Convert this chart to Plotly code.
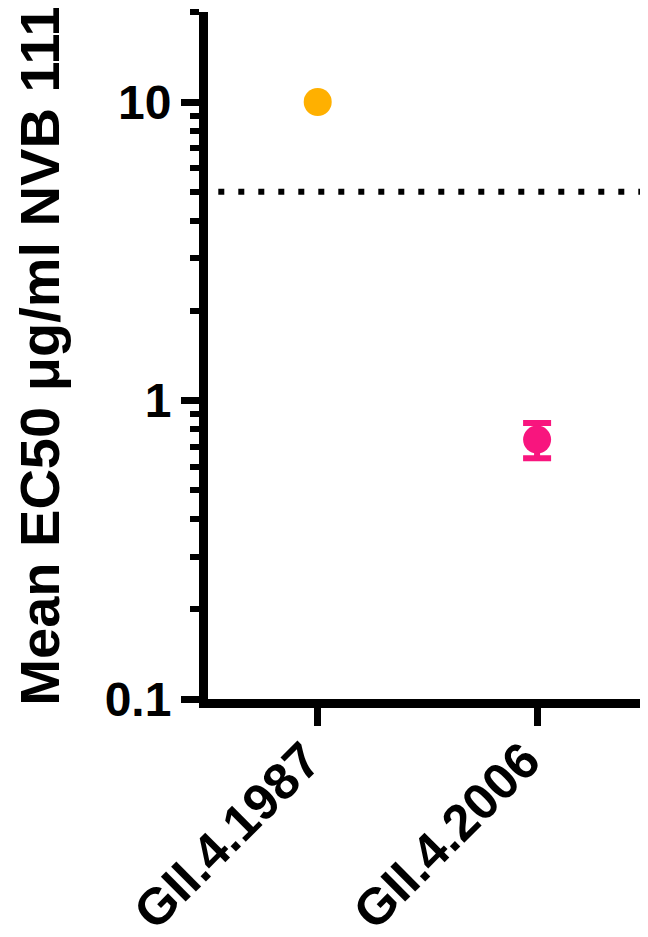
import plotly.graph_objects as go

# Data
categories = ["GII.4.1987", "GII.4.2006"]
mean_ec50 = [10.0, 0.74]
sem_ec50 = [0.0, 0.10]
colors = ["#FFB000", "#F8157E"]
threshold = 5.0
y_title = "Mean EC50 μg/ml NVB 111"

xpos = list(range(len(categories)))

FONT = "Liberation Sans, Arial, Helvetica, sans-serif"

fig = go.Figure()

# dotted threshold line
fig.add_trace(go.Scatter(
    x=[-1, len(categories) + 1], y=[threshold, threshold],
    mode="lines",
    line=dict(color="black", width=6, dash="6px,14px"),
    hoverinfo="skip", showlegend=False,
))

for i, cat in enumerate(categories):
    fig.add_trace(go.Scatter(
        x=[xpos[i]], y=[mean_ec50[i]],
        mode="markers",
        marker=dict(size=28, color=colors[i], line=dict(width=0)),
        error_y=dict(type="data", array=[sem_ec50[i]], visible=sem_ec50[i] > 0,
                     color=colors[i], thickness=6, width=14),
        name=cat, showlegend=False,
    ))

fig.update_layout(
    width=648, height=937,
    margin=dict(l=200, r=0, t=4, b=246),
    paper_bgcolor="white", plot_bgcolor="white",
    font=dict(family=FONT, color="black", size=46, weight="bold"),
    showlegend=False,
)

fig.update_xaxes(
    range=[-0.5, 1.542],
    tickmode="array", tickvals=xpos, ticktext=categories,
    tickangle=-45,
    ticklabelshift=-12, ticklabelstandoff=-16,
    showline=True, linecolor="black", linewidth=9,
    ticks="outside", ticklen=18, tickwidth=7, tickcolor="black",
    showgrid=False, zeroline=False,
    tickfont=dict(family=FONT, size=51, color="black", weight="bold"),
)

fig.update_yaxes(
    type="log",
    range=[-1, 1.3015],
    tickmode="array", tickvals=[0.1, 1, 10], ticktext=["0.1", "1", "10"],
    showline=True, linecolor="black", linewidth=9,
    ticks="outside", ticklen=18, tickwidth=7, tickcolor="black",
    minor=dict(dtick="D1", ticks="outside", ticklen=9, tickwidth=6,
               tickcolor="black", showgrid=False),
    showgrid=False, zeroline=False,
    tickfont=dict(family=FONT, size=48, color="black", weight="bold"),
    title=dict(text=y_title, standoff=58,
               font=dict(family=FONT, size=56, color="black", weight="bold")),
)

fig.write_html("out.html")
